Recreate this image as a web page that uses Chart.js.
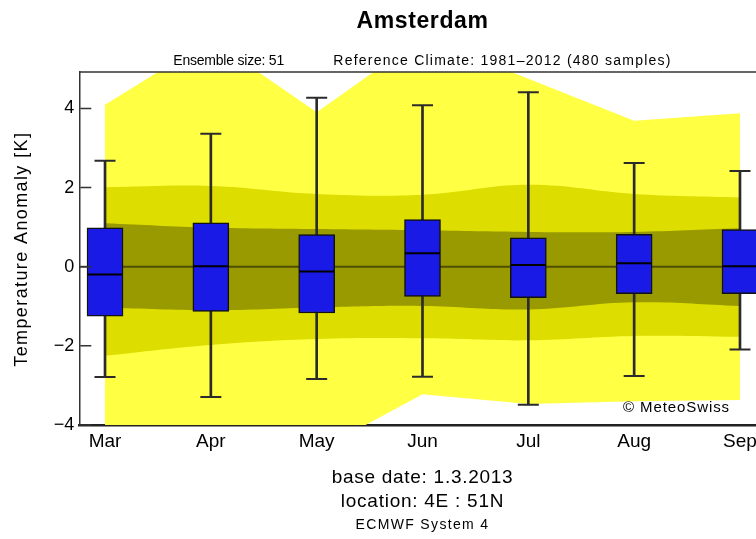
<!DOCTYPE html>
<html>
<head>
<meta charset="utf-8">
<script src="https://cdn.jsdelivr.net/npm/chart.js@4.4.0/dist/chart.umd.min.js"></script>
<style>
  html, body { margin: 0; padding: 0; background: #fff; overflow: hidden; }
  #wrap { width: 800px; height: 539px; }
</style>
</head>
<body>
<div id="wrap"><canvas id="chart" width="800" height="539"></canvas></div>
<script>
// Forecast months (x categories)
const months = ['Mar', 'Apr', 'May', 'Jun', 'Jul', 'Aug', 'Sep'];
const yTicks = [-4, -2, 0, 2, 4];

// Ensemble box plots (K anomaly)
const whiskerHigh = [2.68, 3.36, 4.27, 4.08, 4.41, 2.62, 2.42];
const boxHigh     = [0.98, 1.11, 0.81, 1.19, 0.73, 0.82, 0.94];
const medians     = [-0.20, 0.01, -0.12, 0.34, 0.04, 0.09, 0.01];
const boxLow      = [-1.25, -1.13, -1.17, -0.75, -0.78, -0.68, -0.68];
const whiskerLow  = [-2.79, -3.29, -2.84, -2.78, -3.49, -2.76, -2.09];

// Reference climate bands
const climMax     = [4.09, 5.75, 3.90, 5.80, 4.75, 3.69, 3.88];
const climMin     = [-4.40, -4.70, -4.67, -3.22, -3.47, -3.40, -3.37];
const climOuterHi = [2.01, 2.04, 1.84, 1.82, 2.07, 1.84, 1.75];
const climOuterLo = [-2.25, -1.98, -1.83, -1.81, -1.86, -1.75, -1.77];
const climInnerHi = [1.10, 0.99, 0.95, 0.92, 0.88, 0.88, 0.97];
const climInnerLo = [-1.03, -1.10, -1.03, -0.99, -1.08, -0.90, -0.99];

const FONT = '"Liberation Sans", Arial, Helvetica, sans-serif';
Chart.defaults.font.family = FONT;
Chart.defaults.color = '#000';

const pts = arr => arr.map((v, i) => ({ x: i, y: v }));

function band(lo, hi, color, order, tension) {
  const base = { type: 'line', borderWidth: 0, pointRadius: 0, tension, order };
  return [
    { ...base, label: 'lo', data: pts(lo), fill: false },
    { ...base, label: 'hi', data: pts(hi), fill: '-1', backgroundColor: color },
  ];
}

const INNER_HI = 5; // dataset index of the dark band top edge

const datasets = [
  ...band(climMin, climMax, '#ffff44', 30, 0),
  ...band(climOuterLo, climOuterHi, '#dddd00', 20, 0.4),
  ...band(climInnerLo, climInnerHi, '#999900', 10, 0.4),
  {
    type: 'bar', label: 'whisker', order: 5, grouped: false,
    data: months.map((m, i) => ({ x: i, y: [whiskerLow[i], whiskerHigh[i]] })),
    barThickness: 2, backgroundColor: '#2b2b2b', borderWidth: 0,
  },
  {
    type: 'bar', label: 'box', order: 4, grouped: false,
    data: months.map((m, i) => ({ x: i, y: [boxLow[i], boxHigh[i]] })),
    barThickness: 36, backgroundColor: '#1a1ae6', borderColor: '#111',
    borderWidth: 1.5, borderSkipped: false,
  },
  {
    type: 'line', label: 'median', order: 3, showLine: false,
    data: pts(medians),
    pointStyle: 'line', pointRadius: 17.5, pointBorderWidth: 2, pointBorderColor: '#000',
  },
  {
    type: 'line', label: 'caps', order: 2, showLine: false,
    data: [...pts(whiskerHigh), ...pts(whiskerLow)],
    pointStyle: 'line', pointRadius: 10.5, pointBorderWidth: 2, pointBorderColor: '#2b2b2b',
  },
];

function fitText(ctx, str, x, y, width, font, align) {
  ctx.font = font;
  ctx.letterSpacing = '0px';
  const w = ctx.measureText(str).width;
  const ls = (width - w) / str.length;
  ctx.letterSpacing = ls + 'px';
  ctx.textAlign = 'left';
  const left = align === 'center' ? x - width / 2 : x;
  ctx.fillText(str, left, y);
  ctx.letterSpacing = '0px';
}

const decor = {
  id: 'decor',
  afterDatasetDraw(chart, args) {
    if (args.index !== INNER_HI) return;
    const { ctx, chartArea: a, scales: { y } } = chart;
    const y0 = y.getPixelForValue(0);
    ctx.save();
    ctx.strokeStyle = 'rgba(40,40,0,0.65)';
    ctx.lineWidth = 2;
    ctx.beginPath();
    ctx.moveTo(a.left, y0);
    ctx.lineTo(a.right, y0);
    ctx.stroke();
    ctx.restore();
  },
  afterDraw(chart) {
    const { ctx, chartArea: a, scales: { y } } = chart;
    ctx.save();
    // inward tick marks + top frame
    ctx.strokeStyle = '#333';
    ctx.lineWidth = 1.5;
    ctx.beginPath();
    yTicks.forEach(v => {
      const py = y.getPixelForValue(v);
      ctx.moveTo(a.left + 1, py);
      ctx.lineTo(a.left + 12, py);
    });
    ctx.moveTo(a.left, a.top);
    ctx.lineTo(a.right, a.top);
    ctx.stroke();

    const cx = (a.left + a.right) / 2;
    ctx.fillStyle = '#000';
    ctx.textBaseline = 'alphabetic';
    fitText(ctx, 'Amsterdam', cx, 28.3, 132, 'bold 23px ' + FONT, 'center');
    fitText(ctx, 'Ensemble size: 51', cx - 249.2, 65, 110.7, '14px ' + FONT);
    fitText(ctx, 'Reference Climate: 1981\u20132012 (480 samples)', cx - 89.2, 65, 338.4, '14px ' + FONT);
    fitText(ctx, 'base date: 1.3.2013', cx, 482.7, 181.6, '19px ' + FONT, 'center');
    fitText(ctx, 'location: 4E : 51N', cx, 506.7, 163.3, '19px ' + FONT, 'center');
    fitText(ctx, 'ECMWF System 4', cx, 529.3, 134, '14px ' + FONT, 'center');
    fitText(ctx, '\u00a9 MeteoSwiss', 623, 411.7, 107, '15px ' + FONT);

    // y axis title
    ctx.translate(27, 249.2);
    ctx.rotate(-Math.PI / 2);
    fitText(ctx, 'Temperature Anomaly [K]', 0, 0, 235, '18px ' + FONT, 'center');
    ctx.restore();
  },
};

new Chart(document.getElementById('chart'), {
  type: 'line',
  data: { datasets },
  options: {
    responsive: false,
    devicePixelRatio: 1,
    animation: false,
    events: [],
    layout: { padding: { top: 72, right: 34.3, left: 0, bottom: 0 } },
    plugins: { legend: { display: false }, tooltip: { enabled: false } },
    scales: {
      x: {
        type: 'linear', offset: false,
        min: -0.243, max: 6.243,
        afterFit(scale) { scale.height = 114; },
        afterBuildTicks(scale) { scale.ticks = months.map((m, i) => ({ value: i })); },
        ticks: {
          autoSkip: false, maxRotation: 0, padding: 5,
          font: { size: 19 }, color: '#000',
          callback: (v, i) => months[i],
        },
        grid: { display: false, drawTicks: false },
        border: { display: true, color: '#222', width: 2.5 },
      },
      y: {
        type: 'linear',
        min: -4, max: 4.92,
        afterFit(scale) { scale.width = 79.3; },
        afterBuildTicks(scale) { scale.ticks = yTicks.map(v => ({ value: v })); },
        ticks: {
          padding: 5, font: { size: 18 }, color: '#000',
          callback: v => (v < 0 ? '\u2212' + Math.abs(v) : String(v)),
        },
        grid: { display: false, drawTicks: false },
        border: { display: true, color: '#333', width: 1.5 },
      },
    },
  },
  plugins: [decor],
});
</script>
</body>
</html>
